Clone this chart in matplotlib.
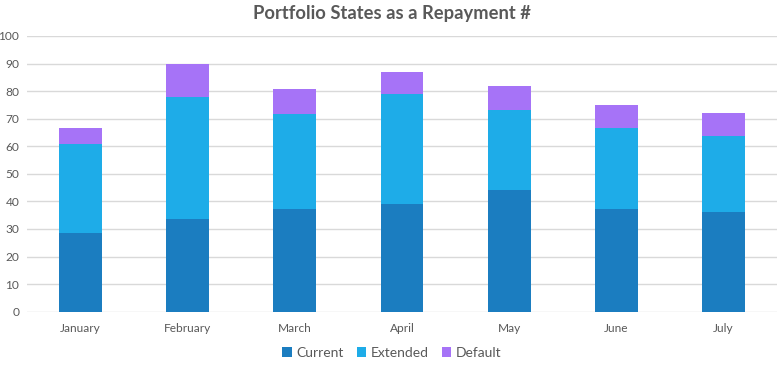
import matplotlib
matplotlib.use("Agg")
import matplotlib.pyplot as plt
import numpy as np

months = ["January", "February", "March", "April", "May", "June", "July"]
current = [28.7, 33.8, 37.2, 39.0, 44.0, 37.2, 36.0]
extended_top = [60.8, 77.9, 71.8, 78.8, 73.0, 66.8, 63.8]
default_top = [66.7, 90.0, 80.9, 87.1, 82.0, 74.8, 71.9]
extended = [e - c for e, c in zip(extended_top, current)]
default = [d - e for d, e in zip(default_top, extended_top)]
yticks = list(range(0, 101, 10))

c_cur = "#1B7DC0"
c_ext = "#1EACE8"
c_def = "#A673F7"
txt = "#595959"

plt.rcParams['font.family'] = ['Lato', 'DejaVu Sans']

fig = plt.figure(figsize=(7.84, 3.65), dpi=100)
ax = fig.add_axes([27/784, 1-311.7/365, 750/784, (311.7-36)/365])
x = np.arange(len(months))
w = 0.4
ax.bar(x, current, w, color=c_cur, label="Current", zorder=3)
ax.bar(x, extended, w, bottom=current, color=c_ext, label="Extended", zorder=3)
ax.bar(x, default, w, bottom=extended_top, color=c_def, label="Default", zorder=3)

ax.set_xlim(-0.5, len(months) - 0.5)
ax.set_ylim(0, 100)
ax.set_yticks(yticks)
ax.set_xticks(x)
ax.set_xticklabels(months)
ax.tick_params(axis='both', length=0, colors=txt, labelsize=8.6)
ax.tick_params(axis='y', pad=5.5)
ax.tick_params(axis='x', pad=8)
ax.yaxis.grid(True, color="#D9D9D9", linewidth=1, zorder=0)
for s in ax.spines.values():
    s.set_visible(False)

fig.text(0.5, 1-14/365, "Portfolio States as a Repayment #", ha='center', va='center',
         fontsize=13.2, fontweight='bold', color=txt)

leg = fig.legend(loc='center', bbox_to_anchor=(0.5, 1-353/365), ncol=3, frameon=False,
                 fontsize=10, handlelength=0.7, handleheight=0.7, handletextpad=0.35,
                 columnspacing=0.9, labelcolor=txt)

fig.savefig("out.png", dpi=100)
